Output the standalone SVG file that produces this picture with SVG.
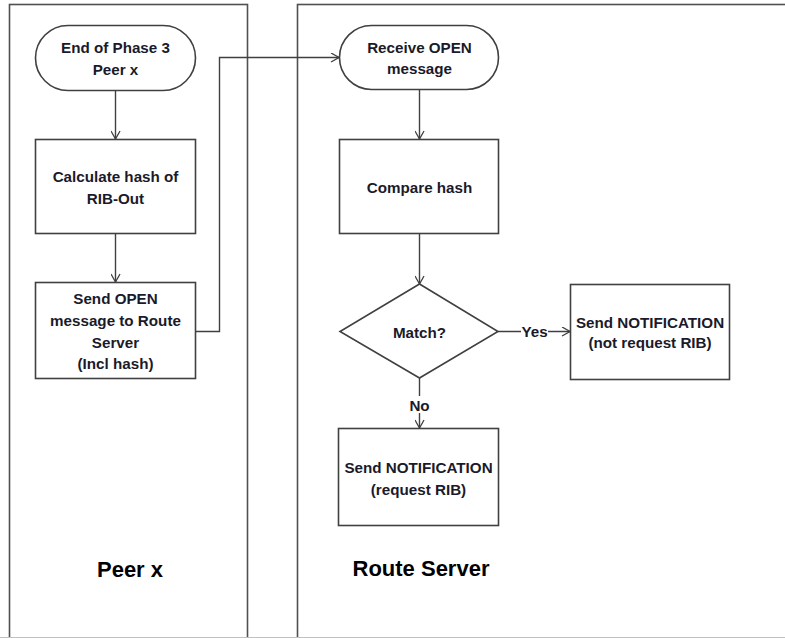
<svg xmlns="http://www.w3.org/2000/svg" width="785" height="638" viewBox="0 0 785 638">
<defs>
<marker id="arr" viewBox="0 0 10 10" refX="9" refY="5" markerWidth="10" markerHeight="10" markerUnits="userSpaceOnUse" orient="auto">
<polyline points="1,0.5 9,5 1,9.5" fill="none" stroke="#404040" stroke-width="1.3"/>
</marker>
</defs>
<style>
.lane{fill:none;stroke:#505050;stroke-width:1.6}
.shape{fill:#fff;stroke:#404040;stroke-width:1.6}
.conn{fill:none;stroke:#404040;stroke-width:1.4}
text{font-family:"Liberation Sans",Arial,sans-serif;font-weight:bold;font-size:15.2px;fill:#1a1a2a;text-anchor:middle}
.title{font-size:22px;fill:#000}
.lbl{fill:#fff;stroke:none}
</style>
<rect width="785" height="638" fill="#fff"/>
<g id="lanes">
<rect class="lane" x="9.5" y="4.5" width="238" height="650"/>
<rect class="lane" x="297.5" y="4.5" width="500" height="650"/>
<line x1="0" y1="637.5" x2="785" y2="637.5" stroke="#c0c0c0" stroke-width="1"/>
</g>
<g id="connectors">
<line class="conn" x1="115.5" y1="91" x2="115.5" y2="139" marker-end="url(#arr)"/>
<line class="conn" x1="115.5" y1="234" x2="115.5" y2="282" marker-end="url(#arr)"/>
<polyline class="conn" points="196,331.5 219.5,331.5 219.5,57.5 339,57.5" marker-end="url(#arr)"/>
<line class="conn" x1="419.5" y1="90" x2="419.5" y2="139" marker-end="url(#arr)"/>
<line class="conn" x1="419.5" y1="234" x2="419.5" y2="284" marker-end="url(#arr)"/>
<line class="conn" x1="498" y1="331.5" x2="570" y2="331.5" marker-end="url(#arr)"/>
<line class="conn" x1="419.5" y1="378" x2="419.5" y2="428" marker-end="url(#arr)"/>
<rect class="lbl" x="521" y="323" width="27" height="17"/>
<text x="534.5" y="337">Yes</text>
<rect class="lbl" x="407" y="396" width="25" height="17"/>
<text x="419.5" y="410.5">No</text>
</g>
<g id="start">
<rect class="shape" x="35.5" y="25.5" width="160" height="65" rx="32.5"/>
<text x="115.5" y="52.5">End of Phase 3</text>
<text x="115.5" y="75">Peer x</text>
</g>
<g id="calc">
<rect class="shape" x="35.5" y="139.5" width="160" height="94"/>
<text x="115.5" y="181.5">Calculate hash of</text>
<text x="115.5" y="203.5">RIB-Out</text>
</g>
<g id="send">
<rect class="shape" x="35.5" y="282.5" width="160" height="96"/>
<text x="115.5" y="303.5">Send OPEN</text>
<text x="115.5" y="325.5">message to Route</text>
<text x="115.5" y="347.5">Server</text>
<text x="115.5" y="368.5">(Incl hash)</text>
</g>
<g id="receive">
<rect class="shape" x="339.5" y="25.5" width="159" height="64" rx="32"/>
<text x="419.5" y="52.5">Receive OPEN</text>
<text x="419.5" y="73.5">message</text>
</g>
<g id="compare">
<rect class="shape" x="339.5" y="139.5" width="159" height="94"/>
<text x="419.5" y="192.5">Compare hash</text>
</g>
<g id="match">
<polygon class="shape" points="419.5,284 498,331.5 419.5,378 340,331.5"/>
<text x="419.5" y="337.5">Match?</text>
</g>
<g id="notrequest">
<rect class="shape" x="570.5" y="284.5" width="159" height="95"/>
<text x="650" y="327.5">Send NOTIFICATION</text>
<text x="650" y="347.5">(not request RIB)</text>
</g>
<g id="request">
<rect class="shape" x="338.5" y="428.5" width="160" height="97"/>
<text x="418.5" y="472.5">Send NOTIFICATION</text>
<text x="418.5" y="494.5">(request RIB)</text>
</g>
<g id="titles">
<text class="title" x="130" y="577">Peer x</text>
<text class="title" x="421" y="576">Route Server</text>
</g>
</svg>
